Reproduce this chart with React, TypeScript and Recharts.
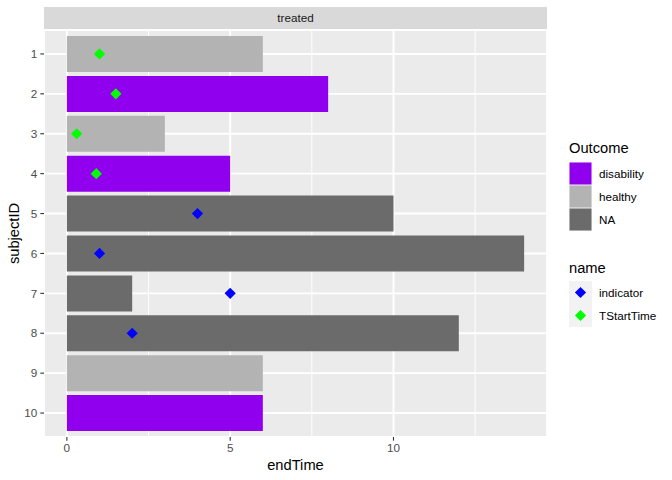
import React from 'react';
import {
  ComposedChart,
  Bar,
  Scatter,
  XAxis,
  YAxis,
  CartesianGrid,
  Cell,
} from 'recharts';

const subjectIDs = ['1', '2', '3', '4', '5', '6', '7', '8', '9', '10'];
const endTimes = [6, 8, 3, 5, 10, 14, 2, 12, 6, 6];
const outcomes = ['healthy', 'disability', 'healthy', 'disability', 'NA', 'NA', 'NA', 'NA', 'healthy', 'disability'];

const tstartIDs = ['1', '2', '3', '4'];
const tstartTimes = [1, 1.5, 0.3, 0.9];
const indicatorIDs = ['5', '6', '7', '8'];
const indicatorTimes = [4, 1, 5, 2];

const xTicks = [0, 5, 10];
const xMinor = [2.5, 7.5, 12.5];

const outcomeColors: Record<string, string> = {
  disability: '#9000EE',
  healthy: '#B3B3B3',
  NA: '#6B6B6B',
};
const pointColors = { indicator: '#0000FF', TStartTime: '#00FF00' };

const barData = subjectIDs.map((id, i) => ({ id, end: endTimes[i], outcome: outcomes[i] }));
const tstartData = tstartIDs.map((id, i) => ({ id, v: tstartTimes[i] }));
const indicatorData = indicatorIDs.map((id, i) => ({ id, v: indicatorTimes[i] }));

const FONT = '"Liberation Sans", Arial, Helvetica, sans-serif';

const diamond = (color: string) => (props: any) => {
  const { cx, cy } = props;
  if (cx == null || cy == null) return null;
  const r = 5.6;
  return (
    <polygon
      points={`${cx},${cy - r} ${cx + r},${cy} ${cx},${cy + r} ${cx - r},${cy}`}
      fill={color}
    />
  );
};

export default function App() {
  const outcomeKeys = ['disability', 'healthy', 'NA'];
  const nameKeys: Array<'indicator' | 'TStartTime'> = ['indicator', 'TStartTime'];
  return (
    <div style={{ position: 'absolute', left: 0, top: 0, width: 672, height: 480, background: '#fff' }}>
      <ComposedChart
        width={672}
        height={480}
        data={barData}
        layout="vertical"
        margin={{ top: 30, right: 125, bottom: 0, left: 0 }}
      >
        <CartesianGrid fill="#EBEBEB" stroke="#FFFFFF" strokeWidth={1.9} />
        <CartesianGrid
          horizontal={false}
          verticalValues={xMinor}
          stroke="#FFFFFF"
          strokeWidth={0.95}
          fill="none"
        />
        <XAxis
          type="number"
          domain={[-0.7, 14.7]}
          ticks={xTicks}
          axisLine={false}
          tickSize={3.67}
          tickMargin={3}
          tickLine={{ stroke: '#333333', strokeWidth: 1.1 }}
          tick={{ fill: '#4D4D4D', fontSize: 11.7, fontFamily: FONT }}
          height={43}
          allowDataOverflow
        />
        <YAxis
          type="category"
          dataKey="id"
          allowDuplicatedCategory={false}
          width={44}
          padding={{ top: 4, bottom: 4 }}
          axisLine={false}
          tickSize={3.67}
          tickMargin={3}
          tickLine={{ stroke: '#333333', strokeWidth: 1.1 }}
          tick={{ fill: '#4D4D4D', fontSize: 11.7, fontFamily: FONT }}
        />
        <Bar dataKey="end" barSize={36} isAnimationActive={false}>
          {barData.map((d, i) => (
            <Cell key={i} fill={outcomeColors[d.outcome]} />
          ))}
        </Bar>
        <Scatter
          data={indicatorData}
          dataKey="v"
          isAnimationActive={false}
          shape={diamond(pointColors.indicator)}
        />
        <Scatter
          data={tstartData}
          dataKey="v"
          isAnimationActive={false}
          shape={diamond(pointColors.TStartTime)}
        />
      </ComposedChart>
      <svg
        width={672}
        height={480}
        style={{ position: 'absolute', left: 0, top: 0, pointerEvents: 'none' }}
        fontFamily={FONT}
      >
        <rect x={44} y={7} width={503} height={22} fill="#D9D9D9" />
        <text x={295.5} y={22} textAnchor="middle" fontSize={11.7} fill="#1A1A1A">
          treated
        </text>
        <text x={295.5} y={470} textAnchor="middle" fontSize={14.7} fill="#000">
          endTime
        </text>
        <text
          x={19}
          y={233.5}
          textAnchor="middle"
          fontSize={14.7}
          fill="#000"
          transform="rotate(-90 19 233.5)"
        >
          subjectID
        </text>
        <text x={569} y={153} fontSize={14.7} fill="#000">
          Outcome
        </text>
        {outcomeKeys.map((k, i) => (
          <g key={k}>
            <rect x={569} y={162 + i * 23} width={23} height={23} fill="#F2F2F2" />
            <rect x={569.5} y={162.5 + i * 23} width={22} height={22} fill={outcomeColors[k]} />
            <text x={599} y={177.8 + i * 23} fontSize={11.7} fill="#000">
              {k}
            </text>
          </g>
        ))}
        <text x={569} y={273} fontSize={14.7} fill="#000">
          name
        </text>
        <rect x={569} y={281} width={23} height={46} fill="#F2F2F2" />
        {nameKeys.map((k, i) => {
          const cx = 580.5;
          const cy = 292.5 + i * 23;
          const r = 5.6;
          return (
            <g key={k}>
              <polygon
                points={`${cx},${cy - r} ${cx + r},${cy} ${cx},${cy + r} ${cx - r},${cy}`}
                fill={pointColors[k]}
              />
              <text x={599} y={cy + 4.2} fontSize={11.7} fill="#000">
                {k}
              </text>
            </g>
          );
        })}
      </svg>
    </div>
  );
}
